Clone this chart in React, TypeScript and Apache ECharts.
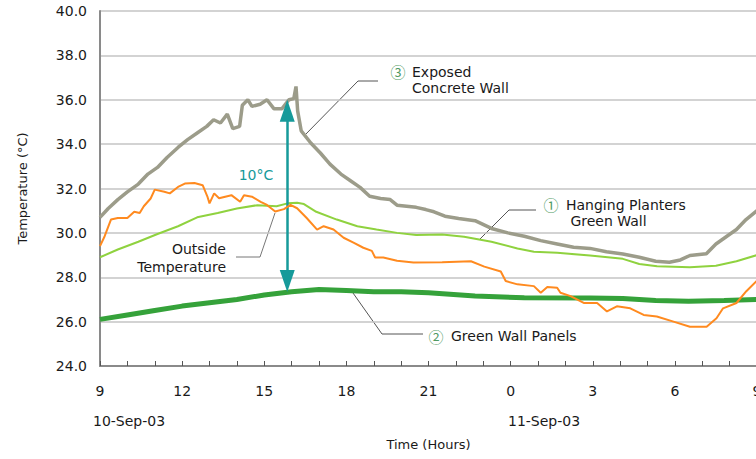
import React, { useEffect, useRef } from "react";
import * as echarts from "echarts";

// Hours since midnight of 10-Sep-03 (24+ = 11-Sep-03)
const concreteHours = [9.0, 9.3, 9.65, 10.0, 10.4, 10.75, 11.1, 11.45, 11.85, 12.2, 12.55, 12.9, 13.15, 13.4, 13.65, 13.85, 14.1, 14.2, 14.4, 14.55, 14.85, 15.1, 15.35, 15.65, 15.9, 16.08, 16.16, 16.22, 16.35, 16.7, 17.05, 17.4, 17.8, 18.15, 18.5, 18.85, 19.25, 19.6, 19.85, 20.2, 20.55, 20.9, 21.2, 21.6, 22.1, 22.7, 23.3, 23.9, 24.5, 25.1, 25.7, 26.3, 26.9, 27.5, 28.1, 28.7, 29.3, 29.8, 30.2, 30.55, 31.15, 31.5, 31.9, 32.25, 32.6, 33.0];
const concreteTemps = [30.7, 31.1, 31.5, 31.85, 32.2, 32.65, 32.95, 33.4, 33.85, 34.2, 34.5, 34.8, 35.1, 34.95, 35.35, 34.7, 34.8, 35.75, 36.0, 35.7, 35.8, 36.0, 35.6, 35.6, 36.0, 36.05, 36.6, 35.5, 34.6, 34.05, 33.6, 33.1, 32.65, 32.35, 32.05, 31.65, 31.55, 31.5, 31.25, 31.2, 31.15, 31.05, 30.95, 30.75, 30.65, 30.55, 30.2, 30.0, 29.85, 29.65, 29.5, 29.35, 29.3, 29.15, 29.05, 28.9, 28.72, 28.68, 28.78, 28.98, 29.06, 29.5, 29.85, 30.15, 30.6, 31.0];

const plantersHours = [9.0, 9.65, 10.4, 11.1, 11.85, 12.55, 13.3, 14.0, 14.75, 15.45, 15.85, 16.2, 16.45, 16.9, 17.65, 18.4, 19.1, 19.85, 20.55, 21.5, 22.3, 23.3, 24.25, 24.85, 25.7, 26.9, 28.1, 28.7, 29.35, 30.55, 31.5, 32.25, 33.0];
const plantersTemps = [28.9, 29.25, 29.6, 29.95, 30.3, 30.7, 30.9, 31.1, 31.25, 31.2, 31.33, 31.36, 31.3, 30.95, 30.6, 30.3, 30.15, 30.0, 29.9, 29.93, 29.83, 29.6, 29.3, 29.15, 29.1, 28.98, 28.83, 28.6, 28.5, 28.45, 28.52, 28.72, 29.0];

const panelsHours = [9, 10, 11, 12, 13, 14, 15, 16, 17, 18, 19, 20, 21, 22.7, 24.5, 26.9, 28.1, 29.3, 30.5, 31.8, 33];
const panelsTemps = [26.1, 26.3, 26.5, 26.7, 26.85, 27.0, 27.2, 27.35, 27.45, 27.4, 27.35, 27.35, 27.3, 27.15, 27.08, 27.07, 27.04, 26.95, 26.92, 26.95, 27.0];

const outsideHours = [9.0, 9.17, 9.4, 9.65, 10.0, 10.25, 10.45, 10.6, 10.85, 11.0, 11.35, 11.55, 11.85, 12.1, 12.45, 12.75, 12.92, 13.0, 13.17, 13.35, 13.8, 14.12, 14.26, 14.55, 14.87, 15.1, 15.4, 15.72, 15.96, 16.2, 16.55, 16.93, 17.17, 17.53, 17.9, 18.26, 18.62, 18.93, 19.05, 19.35, 19.85, 20.45, 21.5, 22.55, 23.04, 23.64, 23.82, 24.25, 24.85, 25.1, 25.34, 25.7, 25.82, 26.19, 26.67, 27.16, 27.52, 27.88, 28.37, 28.86, 29.34, 29.95, 30.55, 31.16, 31.52, 31.76, 32.25, 32.61, 33.0];
const outsideTemps = [29.4, 29.85, 30.6, 30.67, 30.67, 30.95, 30.9, 31.2, 31.55, 31.95, 31.85, 31.78, 32.07, 32.22, 32.25, 32.15, 31.65, 31.33, 31.78, 31.56, 31.7, 31.4, 31.7, 31.63, 31.4, 31.26, 30.96, 31.07, 31.26, 31.11, 30.67, 30.15, 30.3, 30.15, 29.78, 29.56, 29.33, 29.19, 28.89, 28.89, 28.74, 28.67, 28.68, 28.72, 28.48, 28.26, 27.83, 27.68, 27.6, 27.3, 27.56, 27.53, 27.3, 27.15, 26.84, 26.84, 26.46, 26.69, 26.6, 26.3, 26.23, 26.0, 25.77, 25.77, 26.15, 26.6, 26.84, 27.37, 27.85];

// 10°C difference arrow (hour, upper end, lower end of the shaft)
const arrowHour = 15.84;
const arrowTop = 35.5;
const arrowBottom = 27.83;

const yTicks = { min: 24, max: 40, step: 2 };
const xTicks = { min: 9, max: 33, step: 1, labelEvery: 3 };
const dateLabels = ["10-Sep-03", "11-Sep-03"];

const FONT = "DejaVu Sans";

const pair = (xs: number[], ys: number[]) => xs.map((x, i) => [x, ys[i]]);

export default function App() {
  const ref = useRef<HTMLDivElement>(null);
  useEffect(() => {
    if (!ref.current) return;
    const chart = echarts.init(ref.current, undefined, { renderer: "svg" });
    const leader = { stroke: "#555", lineWidth: 1 };
    const annText = { fill: "#1a1a1a", fontSize: 14, fontFamily: FONT, lineHeight: 16 };
    const circ = { fill: "#4f9a63", fontSize: 15, fontFamily: "Noto Sans CJK SC" };
    chart.setOption({
      animation: false,
      backgroundColor: "#ffffff",
      grid: { left: 100, right: -1, top: 11, bottom: 93, containLabel: false, outerBoundsMode: "none" },
      xAxis: {
        type: "value",
        min: xTicks.min,
        max: xTicks.max,
        interval: xTicks.step,
        name: "Time (Hours)",
        nameLocation: "middle",
        nameGap: 72,
        nameTextStyle: { fontFamily: FONT, fontSize: 13, color: "#1a1a1a" },
        axisLine: { show: true, lineStyle: { color: "#8a8a8a", width: 2 } },
        axisTick: { show: true, inside: true, length: 5, lineStyle: { color: "#555", width: 1 } },
        splitLine: { show: false },
        axisLabel: {
          margin: 18,
          fontFamily: FONT,
          fontSize: 14,
          color: "#1a1a1a",
          showMinLabel: true,
          showMaxLabel: true,
          hideOverlap: false,
          formatter: (v: number) => (Math.round(v) % xTicks.labelEvery === 0 ? String(Math.round(v) % 24) : ""),
        },
      },
      yAxis: {
        type: "value",
        min: yTicks.min,
        max: yTicks.max,
        interval: yTicks.step,
        name: "Temperature (°C)",
        nameLocation: "middle",
        nameGap: 71,
        nameTextStyle: { fontFamily: FONT, fontSize: 13, color: "#1a1a1a" },
        axisLine: { show: true, lineStyle: { color: "#8a8a8a", width: 2 } },
        axisTick: { show: false },
        splitLine: { show: true, lineStyle: { color: "#c4c4c4", width: 1.5 } },
        axisLabel: {
          margin: 13,
          fontFamily: FONT,
          fontSize: 14,
          color: "#1a1a1a",
          formatter: (v: number) => v.toFixed(1),
        },
      },
      series: [
        {
          name: "Green Wall Panels",
          type: "line",
          data: pair(panelsHours, panelsTemps),
          showSymbol: false,
          lineStyle: { color: "#35a23a", width: 5 },
          z: 2,
        },
        {
          name: "Exposed Concrete Wall",
          type: "line",
          data: pair(concreteHours, concreteTemps),
          showSymbol: false,
          lineStyle: { color: "#9c9c8a", width: 3.5 },
          z: 3,
        },
        {
          name: "Hanging Planters Green Wall",
          type: "line",
          data: pair(plantersHours, plantersTemps),
          showSymbol: false,
          lineStyle: { color: "#8fd23f", width: 2 },
          z: 4,
        },
        {
          name: "Outside Temperature",
          type: "line",
          data: pair(outsideHours, outsideTemps),
          showSymbol: false,
          lineStyle: { color: "#ff8a1f", width: 2 },
          z: 5,
        },
        {
          name: "Difference",
          type: "line",
          data: [],
          z: 10,
          markLine: {
            silent: true,
            symbol: ["triangle", "triangle"],
            symbolSize: [15, 22],
            label: { show: false },
            lineStyle: { color: "#169a9a", width: 2.5, type: "solid" },
            data: [
              [
                { coord: [arrowHour, arrowTop] },
                { coord: [arrowHour, arrowBottom] },
              ],
            ],
          },
        },
      ],
      graphic: [
        // date labels
        { type: "text", left: 93, top: 413, style: { text: dateLabels[0], ...annText, fontSize: 14 } },
        { type: "text", left: 508, top: 413, style: { text: dateLabels[1], ...annText, fontSize: 14 } },
        // 10°C label
        { type: "text", x: 256, y: 175, style: { text: "10°C", fill: "#169a9a", fontSize: 14, fontFamily: FONT, align: "center", verticalAlign: "middle" } },
        // Concrete wall annotation
        { type: "polyline", shape: { points: [[378, 81], [358, 81], [304, 136]] }, style: { ...leader, fill: null } },
        { type: "text", x: 398, y: 71, style: { text: "③", ...circ, align: "center", verticalAlign: "middle" } },
        { type: "text", x: 412, y: 64, style: { text: "Exposed\nConcrete Wall", ...annText, align: "left", verticalAlign: "top" } },
        // Hanging planters annotation
        { type: "polyline", shape: { points: [[536, 210], [509, 210], [479, 240]] }, style: { ...leader, fill: null } },
        { type: "text", x: 551, y: 204, style: { text: "①", ...circ, align: "center", verticalAlign: "middle" } },
        { type: "text", x: 566, y: 197, style: { text: "Hanging Planters\n Green Wall", ...annText, align: "left", verticalAlign: "top" } },
        // Green wall panels annotation
        { type: "polyline", shape: { points: [[353, 293], [382, 334], [423, 334]] }, style: { ...leader, fill: null } },
        { type: "text", x: 436, y: 336, style: { text: "②", ...circ, align: "center", verticalAlign: "middle" } },
        { type: "text", x: 451, y: 336, style: { text: "Green Wall Panels", ...annText, align: "left", verticalAlign: "middle" } },
        // Outside temperature annotation
        { type: "polyline", shape: { points: [[236, 257], [260, 257], [275, 213]] }, style: { stroke: "#777", lineWidth: 1, fill: null } },
        { type: "text", x: 226, y: 240, style: { text: "Outside\nTemperature", ...annText, lineHeight: 18, align: "right", verticalAlign: "top" } },
      ],
    });
    return () => chart.dispose();
  }, []);
  return (
    <div
      ref={ref}
      style={{ position: "fixed", left: 0, top: 0, width: 756, height: 459, background: "#fff" }}
    />
  );
}
